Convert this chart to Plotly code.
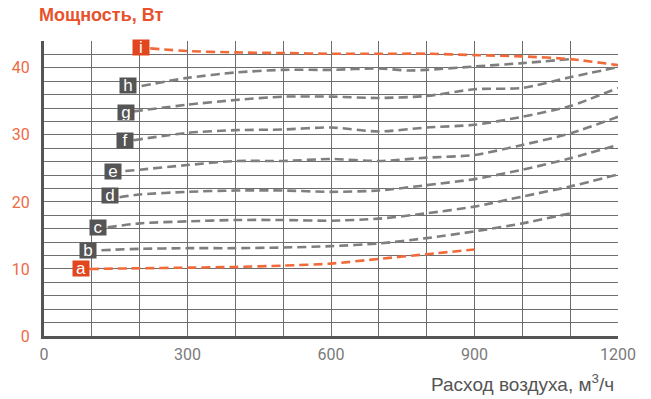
import plotly.graph_objects as go

# ---- data ----
x_a = [95, 200, 300, 400, 500, 600, 700, 800, 900]
y_a = [10.0, 10.1, 10.2, 10.3, 10.5, 10.8, 11.5, 12.2, 12.9]

x_b = [120, 200, 300, 400, 500, 600, 700, 800, 900, 1000, 1100]
y_b = [12.8, 13.0, 13.1, 13.1, 13.2, 13.4, 13.8, 14.6, 15.6, 16.8, 18.3]

x_c = [133, 200, 300, 400, 500, 600, 700, 800, 900, 1000, 1100, 1200]
y_c = [16.2, 16.8, 17.1, 17.3, 17.3, 17.2, 17.5, 18.3, 19.3, 20.8, 22.3, 24.1]

x_d = [158, 200, 300, 400, 500, 600, 700, 800, 900, 1000, 1100, 1200]
y_d = [20.7, 21.1, 21.5, 21.7, 21.7, 21.5, 21.7, 22.5, 23.4, 24.8, 26.5, 28.5]

x_e = [170, 200, 300, 400, 500, 600, 700, 800, 900, 1000, 1100, 1200]
y_e = [24.6, 24.8, 25.5, 26.1, 26.1, 26.4, 26.1, 26.6, 27.0, 28.5, 30.2, 32.7]

x_f = [187, 300, 400, 500, 600, 700, 800, 900, 1000, 1100, 1200]
y_f = [29.2, 30.3, 30.7, 30.8, 31.1, 30.5, 31.1, 31.5, 32.7, 34.3, 37.0]

x_g = [187, 300, 400, 500, 600, 700, 800, 900, 1000, 1100, 1200]
y_g = [33.5, 34.5, 35.2, 35.7, 35.7, 35.5, 35.8, 36.8, 37.0, 38.6, 40.1]

x_h = [204, 300, 400, 500, 600, 700, 760, 800, 900, 1000, 1100]
y_h = [37.3, 38.5, 39.3, 39.7, 39.7, 39.9, 39.6, 39.7, 40.2, 40.7, 41.3]

x_i = [222, 300, 400, 500, 600, 700, 800, 900, 1000, 1100, 1200]
y_i = [42.9, 42.5, 42.3, 42.2, 42.1, 42.1, 42.1, 41.9, 41.7, 41.3, 40.4]

series_names = ["a", "b", "c", "d", "e", "f", "g", "h", "i"]
series_x = [x_a, x_b, x_c, x_d, x_e, x_f, x_g, x_h, x_i]
series_y = [y_a, y_b, y_c, y_d, y_e, y_f, y_g, y_h, y_i]
highlight = {"a", "i"}

# label box positions (data coords)
label_x = [77, 91, 112, 138, 144, 170, 172, 176, 203]
label_y = [10.1, 12.75, 16.2, 20.9, 24.6, 29.2, 33.3, 37.3, 43.1]

x_ticks = [0, 300, 600, 900, 1200]
y_ticks = [0, 10, 20, 30, 40]

ORANGE_LINE = "#f26a3a"
ORANGE_BOX = "#e2461f"
GREY_LINE = "#7f7f7f"
GREY_BOX = "#555555"
GRID = "#6e6e6e"
NARROW = "Liberation Sans Narrow, Arial Narrow, Liberation Sans, sans-serif"

fig = go.Figure()

order = [n for n in series_names if n not in highlight] + [n for n in series_names if n in highlight]
for n in order:
    k = series_names.index(n)
    col = ORANGE_LINE if n in highlight else GREY_LINE
    fig.add_trace(go.Scatter(
        x=series_x[k], y=series_y[k], mode="lines",
        line=dict(color=col, width=2.6, dash="9px,5px", shape="spline", smoothing=0.7),
        hoverinfo="skip", showlegend=False))

for k, n in enumerate(series_names):
    fig.add_annotation(
        x=label_x[k], y=label_y[k], xref="x", yref="y",
        text=n, showarrow=False,
        font=dict(family=NARROW, size=17, color="white"),
        bgcolor=ORANGE_BOX if n in highlight else GREY_BOX,
        width=16, height=15, borderpad=0, align="center", valign="middle")

fig.add_annotation(
    x=-0.012, y=1.088, xref="paper", yref="paper", xanchor="left", yanchor="middle",
    text="Мощность, Вт", showarrow=False,
    font=dict(family=NARROW, size=18, color="#e8512a", weight="bold"))

fig.add_annotation(
    x=0.997, y=-0.16, xref="paper", yref="paper", xanchor="right", yanchor="middle",
    text="Расход воздуха, м<sup>3</sup>/ч", showarrow=False,
    font=dict(family=NARROW, size=19, color="#555555"))

fig.update_layout(
    width=651, height=399,
    margin=dict(l=40, r=33, t=41, b=63),
    paper_bgcolor="white", plot_bgcolor="white",
    showlegend=False,
    xaxis=dict(
        range=[0, 1200], tickvals=x_ticks, ticktext=[str(v) for v in x_ticks],
        showgrid=True, gridcolor=GRID, gridwidth=1,
        minor=dict(dtick=100, showgrid=True, gridcolor=GRID, gridwidth=1),
        showline=True, linecolor="#555555", linewidth=3,
        zeroline=False, ticks="",
        tickfont=dict(family="Roboto, Liberation Sans, sans-serif", size=16, color="#7a7a7a"),
        ticklabelstandoff=2,
    ),
    yaxis=dict(
        range=[0, 44], tickvals=y_ticks, ticktext=[str(v) for v in y_ticks],
        showgrid=True, gridcolor=GRID, gridwidth=1,
        minor=dict(dtick=2, showgrid=True, gridcolor=GRID, gridwidth=1),
        showline=True, linecolor="#555555", linewidth=3,
        zeroline=False, ticks="",
        tickfont=dict(family="Roboto, Liberation Sans, sans-serif", size=16, color="#ee6a45"),
        ticklabelstandoff=8,
    ),
)

fig.write_html("out.html",
               config={"displayModeBar": False},
               post_script="document.body.style.margin='0';document.body.style.padding='0';")
